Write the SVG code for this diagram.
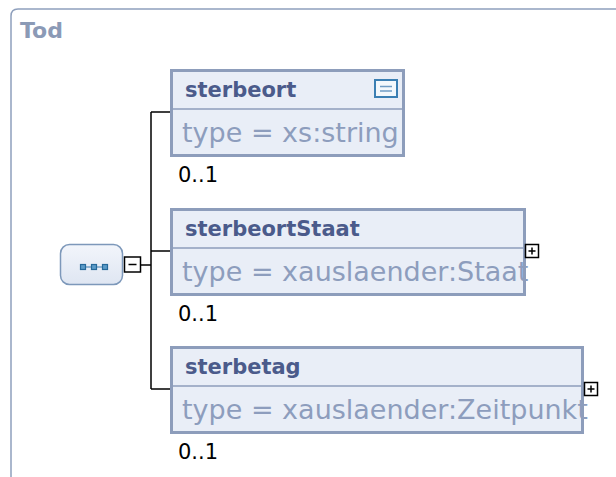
<svg xmlns="http://www.w3.org/2000/svg" width="616" height="477" viewBox="0 0 616 477">
<style>
.frame{fill:none;stroke:#8fa0bd;stroke-width:1.5}
.tod{font-family:"DejaVu Sans",Verdana,sans-serif;font-weight:bold;font-size:22px;fill:#8b9ab6}
.box{fill:#e9eef7;stroke:#8d9dbb;stroke-width:3}
.sep{stroke:#8d9dbb;stroke-width:1.5}
.title{font-family:"DejaVu Sans",Verdana,sans-serif;font-weight:bold;font-size:21px;fill:#4b5b8b}
.type{font-family:"DejaVu Sans",Verdana,sans-serif;font-size:27px;fill:#8d9dbd}
.card{font-family:"DejaVu Sans",Verdana,sans-serif;font-size:21px;fill:#000}
.conn{fill:none;stroke:#000;stroke-width:1.5}
.tog{fill:#fff;stroke:#000;stroke-width:1.5}
.togl{stroke:#000;stroke-width:1.5}
.dot{fill:#5b9bc8;stroke:#26699a;stroke-width:1.2}
</style>
<defs>
<linearGradient id="seqg" x1="0" y1="0" x2="0" y2="1">
<stop offset="0" stop-color="#f2f5fb"/>
<stop offset="1" stop-color="#dfe6f2"/>
</linearGradient>
</defs>
<path class="frame" d="M11 477 V16 Q11 9 18 9 H616"/>
<text class="tod" x="20" y="38">Tod</text>

<g id="connectors">
<path class="conn" d="M140 265 H151 M151 112 V389 M151 112 H171 M151 251 H171 M151 389 H171"/>
</g>

<g id="sequence">
<rect x="60.5" y="244.5" width="62" height="40" rx="9" fill="url(#seqg)" stroke="#7d98ba" stroke-width="1.5"/>
<line x1="82" y1="267" x2="105" y2="267" stroke="#3d7fb0" stroke-width="1"/>
<rect class="dot" x="80.5" y="264.5" width="5" height="5"/>
<rect class="dot" x="91.5" y="264.5" width="5" height="5"/>
<rect class="dot" x="102.5" y="264.5" width="5" height="5"/>
<rect class="tog" x="124.5" y="257" width="16" height="15"/>
<line class="togl" x1="128.5" y1="264.5" x2="136.5" y2="264.5"/>
</g>

<g id="sterbeort">
<rect class="box" x="171.5" y="70.5" width="232" height="85"/>
<line class="sep" x1="173" y1="109" x2="402" y2="109"/>
<text class="title" x="185" y="97">sterbeort</text>
<rect x="375" y="80" width="22" height="17" fill="#f3f8fc" stroke="#3b7fb3" stroke-width="2"/>
<line x1="380" y1="86.5" x2="392" y2="86.5" stroke="#6f9cc4" stroke-width="1.5"/>
<line x1="380" y1="91" x2="392" y2="91" stroke="#6f9cc4" stroke-width="1.5"/>
<text class="type" x="182" y="142">type = xs:string</text>
<text class="card" x="178" y="182">0..1</text>
</g>

<g id="sterbeortStaat">
<rect class="box" x="171.5" y="209.5" width="353" height="85"/>
<line class="sep" x1="173" y1="248" x2="523" y2="248"/>
<text class="title" x="185" y="236">sterbeortStaat</text>
<text class="type" x="182" y="281">type = xauslaender:Staat</text>
<rect class="tog" x="525.5" y="244.5" width="13" height="13"/>
<path class="togl" d="M528.5 251 H535.5 M532 247.5 V254.5"/>
<text class="card" x="178" y="321">0..1</text>
</g>

<g id="sterbetag">
<rect class="box" x="171.5" y="347.5" width="411" height="85"/>
<line class="sep" x1="173" y1="386" x2="581" y2="386"/>
<text class="title" x="185" y="374">sterbetag</text>
<text class="type" x="182" y="419">type = xauslaender:Zeitpunkt</text>
<rect class="tog" x="584.5" y="382.5" width="13" height="13"/>
<path class="togl" d="M587.5 389 H594.5 M591 385.5 V392.5"/>
<text class="card" x="178" y="459">0..1</text>
</g>
</svg>
